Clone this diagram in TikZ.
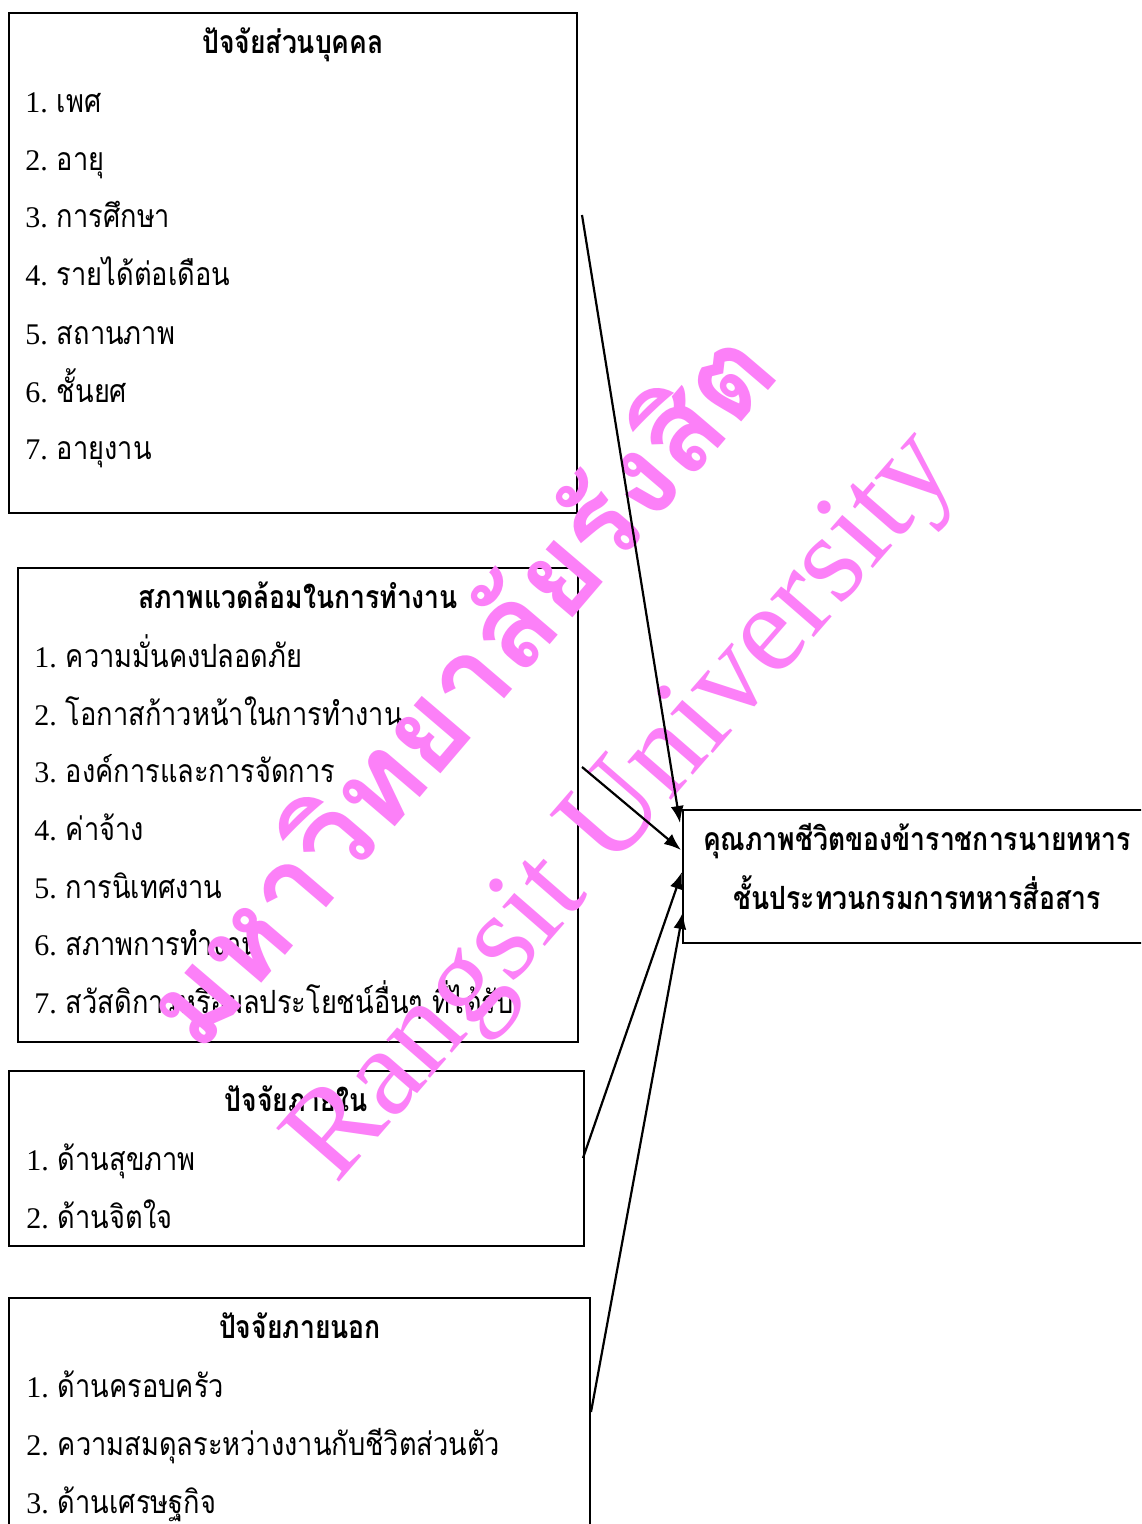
\documentclass[tikz,border=0pt]{standalone}
\usepackage{fontspec}
\usetikzlibrary{arrows.meta,fit}
\newfontfamily\thai[Script=Thai, FakeStretch=0.85]{Loma}
\newfontfamily\thaib[Script=Thai, FakeStretch=0.83]{Loma}
\newfontfamily\thaiw[Script=Thai]{Loma}
\newfontfamily\tnr{Liberation Serif}
\definecolor{wmpink}{RGB}{252,128,248}
\newcommand\itemtx[2]{{\tnr #1.}\ {\fontsize{16}{18}\selectfont\thai #2}}
\tikzset{
  box/.style={draw, line width=1pt, inner sep=0pt},
  itm/.style={anchor=base west, inner sep=0pt, font=\fontsize{15}{18}\selectfont},
  ttl/.style={anchor=base, inner sep=0pt, font=\fontsize{16}{18}\selectfont\thaib\bfseries},
  arr/.style={-{Latex[length=8.5pt,width=6.5pt]}, line width=1.1pt},
  wm/.style={text=wmpink, inner sep=0pt},
}
\begin{document}
\begin{tikzpicture}[x=0.5pt,y=-0.5pt]
\useasboundingbox (0,0) rectangle (1141,1524);
\clip (0,0) rectangle (1141,1524);
\fill[white] (0,0) rectangle (1141,1524);

% boxes
\node[box, fit={(9,13) (577,513)}] (b1) {};
\node[box, fit={(18,568) (578,1042)}] (b2) {};
\node[box, fit={(9,1071) (584,1246)}] (b3) {};
\node[box, fit={(9,1298) (590,1560)}] (b4) {};
\node[box, fit={(683,810) (1180,943)}] (tgt) {};

% box 1
\node[ttl] (t1) at (293,54) {ปัจจัยส่วนบุคคล};
\node[itm] (i11) at (25,113) {\itemtx{1}{เพศ}};
\node[itm] (i12) at (25,171) {\itemtx{2}{อายุ}};
\node[itm] (i13) at (25,228) {\itemtx{3}{การศึกษา}};
\node[itm] (i14) at (25,286) {\itemtx{4}{รายได้ต่อเดือน}};
\node[itm] (i15) at (25,344) {\itemtx{5}{สถานภาพ}};
\node[itm] (i16) at (25,402) {\itemtx{6}{ชั้นยศ}};
\node[itm] (i17) at (25,459) {\itemtx{7}{อายุงาน}};

% box 2
\node[ttl] (t2) at (298,608) {สภาพแวดล้อมในการทำงาน};
\node[itm] (i21) at (34,667) {\itemtx{1}{ความมั่นคงปลอดภัย}};
\node[itm] (i22) at (34,725) {\itemtx{2}{โอกาสก้าวหน้าในการทำงาน}};
\node[itm] (i23) at (34,782) {\itemtx{3}{องค์การและการจัดการ}};
\node[itm] (i24) at (34,840) {\itemtx{4}{ค่าจ้าง}};
\node[itm] (i25) at (34,898) {\itemtx{5}{การนิเทศงาน}};
\node[itm] (i26) at (34,955) {\itemtx{6}{สภาพการทำงาน}};
\node[itm] (i27) at (34,1013) {\itemtx{7}{สวัสดิการหรือผลประโยชน์อื่นๆ ที่ได้รับ}};

% box 3
\node[ttl] (t3) at (296,1111) {ปัจจัยภายใน};
\node[itm] (i31) at (26,1170) {\itemtx{1}{ด้านสุขภาพ}};
\node[itm] (i32) at (26,1228) {\itemtx{2}{ด้านจิตใจ}};

% box 4
\node[ttl] (t4) at (300,1338) {ปัจจัยภายนอก};
\node[itm] (i41) at (26,1397) {\itemtx{1}{ด้านครอบครัว}};
\node[itm] (i42) at (26,1455) {\itemtx{2}{ความสมดุลระหว่างงานกับชีวิตส่วนตัว}};
\node[itm] (i43) at (26,1513) {\itemtx{3}{ด้านเศรษฐกิจ}};

% target
\node[ttl] (tt1) at (917,850) {คุณภาพชีวิตของข้าราชการนายทหาร};
\node[ttl] (tt2) at (917,909) {ชั้นประทวนกรมการทหารสื่อสาร};

% watermark
\node[wm, rotate=49.5, font=\fontsize{58}{58}\selectfont\thaiw\bfseries] (wm1) at (455,684) {มหาวิทยาลัยรังสิต};
\node[wm, rotate=49, anchor=base, font=\fontsize{63}{63}\selectfont\tnr] (wm2) at (648,828) {Rangsit University};

% connectors
\coordinate (s1) at (582,215);
\coordinate (s2) at (582,767);
\coordinate (s3) at (583,1158);
\coordinate (s4) at (591,1412);
\coordinate (e1) at (680,823);
\coordinate (e2) at (681,850);
\coordinate (e3) at (682,872);
\coordinate (e4) at (683,912);
\draw[arr] (s1) -- (e1);
\draw[arr] (s2) -- (e2);
\draw[arr] (s3) -- (e3);
\draw[arr] (s4) -- (e4);
\end{tikzpicture}
\end{document}
